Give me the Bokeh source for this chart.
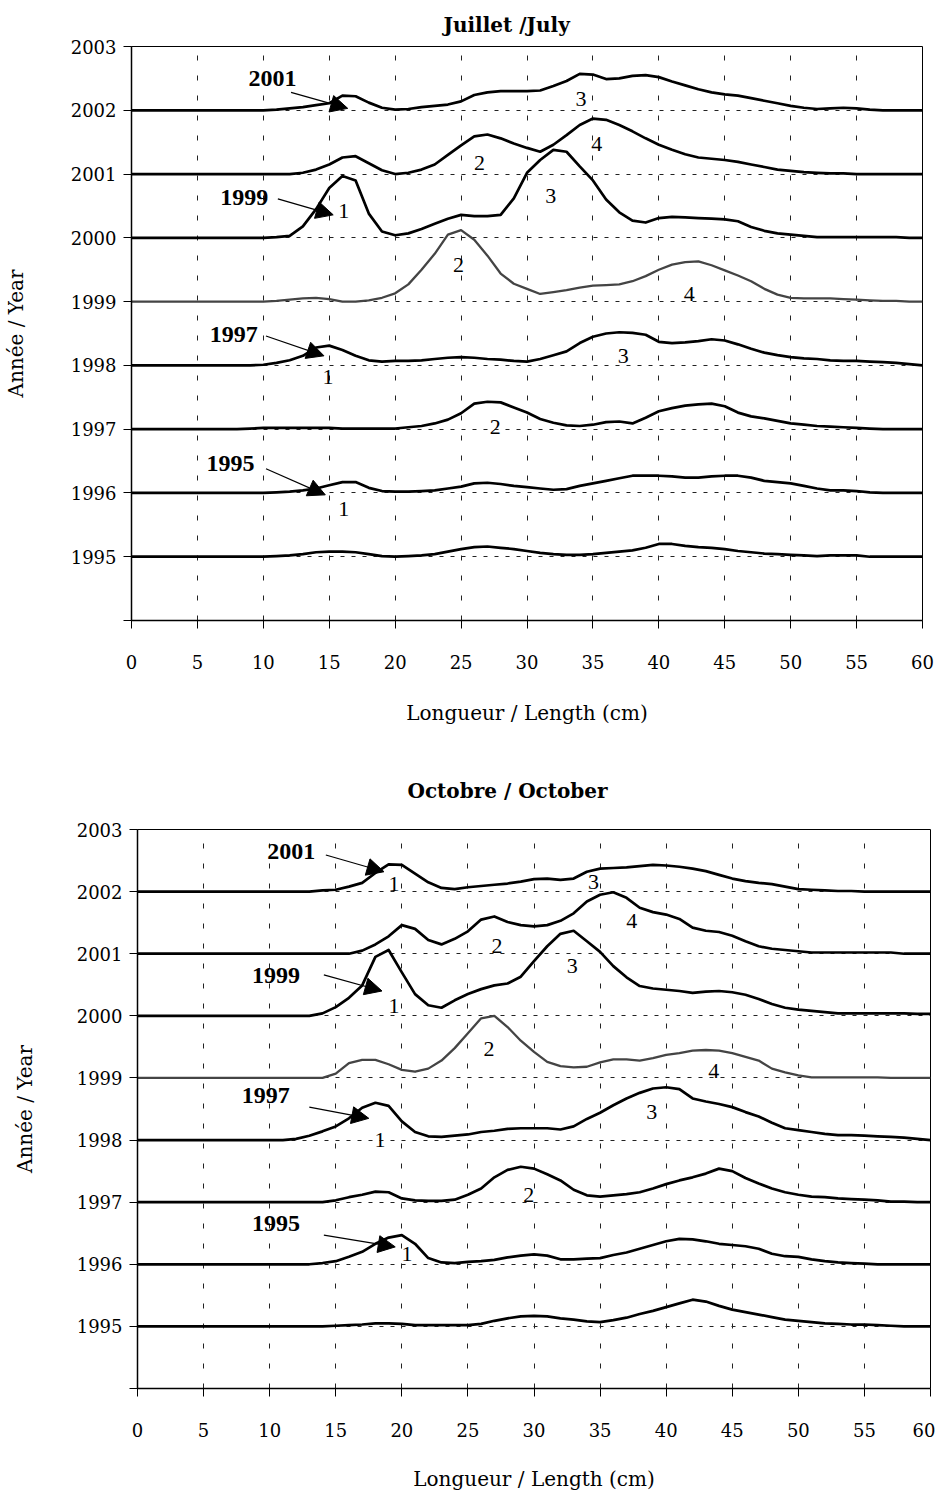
import math
from bokeh.plotting import figure
from bokeh.models import Range1d, Label, Arrow, NormalHead
from bokeh.embed import file_html
from bokeh.resources import INLINE

# ---------------- data ----------------
LENGTHS = list(range(0, 61))          # length classes (cm)
YEARS = [1995, 1996, 1997, 1998, 1999, 2000, 2001, 2002]
X_TICKS = [0, 5, 10, 15, 20, 25, 30, 35, 40, 45, 50, 55, 60]
Y_TICKS = [1994, 1995, 1996, 1997, 1998, 1999, 2000, 2001, 2002, 2003]

# relative frequency (in year units above each baseline) - July
JUL_1995 = [0,0,0,0,0,0,0,0,0,0,0,
            0.01,0.02,0.04,0.07,0.08,0.08,0.07,0.04,0.01,0.0,
            0.01,0.02,0.04,0.08,0.12,0.15,0.16,0.14,0.12,0.09,
            0.06,0.04,0.03,0.03,0.04,0.06,0.08,0.10,0.14,0.20,
            0.20,0.17,0.15,0.14,0.12,0.09,0.07,0.05,0.04,0.03,
            0.02,0.01,0.02,0.02,0.02,0,0,0,0,0]
JUL_1996 = [0,0,0,0,0,0,0,0,0,0,0,
            0.01,0.02,0.04,0.07,0.12,0.17,0.17,0.08,0.03,0.02,
            0.02,0.03,0.04,0.07,0.10,0.15,0.16,0.14,0.11,0.09,
            0.07,0.05,0.06,0.11,0.15,0.19,0.23,0.27,0.27,0.27,
            0.26,0.24,0.24,0.26,0.27,0.27,0.24,0.19,0.17,0.15,
            0.11,0.07,0.04,0.04,0.03,0.01,0,0,0,0]
JUL_1997 = [0,0,0,0,0,0,0,0,0,0.01,0.02,
            0.02,0.02,0.02,0.02,0.02,0.01,0.01,0.01,0.01,0.01,
            0.03,0.05,0.09,0.15,0.25,0.40,0.43,0.42,0.34,0.26,
            0.16,0.10,0.06,0.05,0.07,0.11,0.12,0.09,0.18,0.28,
            0.33,0.37,0.39,0.40,0.36,0.26,0.20,0.17,0.13,0.09,
            0.07,0.05,0.04,0.03,0.02,0.01,0,0,0,0]
JUL_1998 = [0,0,0,0,0,0,0,0,0,0,0.01,
            0.04,0.08,0.15,0.28,0.31,0.24,0.15,0.08,0.06,0.07,
            0.07,0.08,0.10,0.12,0.13,0.12,0.10,0.09,0.07,0.06,
            0.10,0.16,0.22,0.35,0.45,0.50,0.52,0.51,0.48,0.37,
            0.35,0.36,0.38,0.41,0.39,0.33,0.26,0.20,0.16,0.13,
            0.11,0.10,0.08,0.07,0.07,0.06,0.05,0.04,0.02,0.0]
JUL_1999 = [0,0,0,0,0,0,0,0,0,0,0,
            0.01,0.03,0.05,0.06,0.04,0.0,0.0,0.02,0.06,0.13,
            0.27,0.50,0.75,1.05,1.12,0.97,0.72,0.44,0.28,0.20,
            0.12,0.15,0.18,0.22,0.25,0.26,0.27,0.32,0.40,0.50,
            0.58,0.62,0.63,0.57,0.49,0.41,0.32,0.20,0.11,0.06,
            0.05,0.05,0.05,0.04,0.03,0.02,0.01,0.01,0,0]
JUL_2000 = [0,0,0,0,0,0,0,0,0,0,0,
            0.01,0.03,0.18,0.45,0.78,0.97,0.90,0.38,0.10,0.04,
            0.07,0.14,0.22,0.30,0.36,0.34,0.34,0.36,0.62,1.02,
            1.22,1.38,1.35,1.12,0.90,0.60,0.40,0.27,0.24,0.31,
            0.33,0.32,0.31,0.30,0.29,0.26,0.17,0.11,0.07,0.05,
            0.03,0.01,0.01,0.01,0.01,0.01,0.01,0.01,0,0]
JUL_2001 = [0,0,0,0,0,0,0,0,0,0,0,
            0,0,0.02,0.07,0.15,0.26,0.28,0.17,0.06,0.0,
            0.02,0.07,0.15,0.30,0.45,0.59,0.62,0.56,0.48,0.41,
            0.35,0.46,0.61,0.77,0.87,0.85,0.77,0.67,0.56,0.46,
            0.38,0.31,0.26,0.24,0.22,0.19,0.15,0.11,0.07,0.05,
            0.03,0.02,0.01,0.01,0,0,0,0,0,0]
JUL_2002 = [0,0,0,0,0,0,0,0,0,0,0,
            0.01,0.03,0.05,0.08,0.11,0.23,0.22,0.12,0.04,0.01,
            0.02,0.05,0.07,0.09,0.14,0.24,0.28,0.30,0.30,0.30,
            0.31,0.38,0.46,0.57,0.56,0.49,0.50,0.54,0.55,0.52,
            0.45,0.39,0.33,0.28,0.25,0.23,0.19,0.15,0.11,0.07,
            0.04,0.02,0.03,0.04,0.03,0.01,0,0,0,0]

# October
OCT_1995 = [0,0,0,0,0,0,0,0,0,0,0,
            0,0,0,0,0.01,0.02,0.03,0.05,0.05,0.04,
            0.02,0.02,0.02,0.02,0.02,0.04,0.09,0.13,0.16,0.17,
            0.16,0.13,0.11,0.08,0.07,0.10,0.14,0.20,0.25,0.31,
            0.37,0.43,0.40,0.33,0.27,0.23,0.19,0.15,0.11,0.09,
            0.07,0.05,0.04,0.03,0.03,0.02,0.01,0,0,0]
OCT_1996 = [0,0,0,0,0,0,0,0,0,0,0,
            0,0,0,0.02,0.05,0.12,0.20,0.33,0.43,0.47,
            0.33,0.10,0.03,0.02,0.04,0.05,0.07,0.11,0.14,0.16,
            0.14,0.08,0.08,0.09,0.10,0.15,0.19,0.25,0.31,0.37,
            0.41,0.40,0.37,0.33,0.31,0.29,0.25,0.17,0.13,0.12,
            0.08,0.05,0.03,0.02,0.01,0,0,0,0,0]
OCT_1997 = [0,0,0,0,0,0,0,0,0,0,0,
            0,0,0,0,0.03,0.08,0.12,0.17,0.16,0.06,
            0.03,0.02,0.02,0.04,0.12,0.22,0.40,0.52,0.57,0.54,
            0.45,0.35,0.20,0.11,0.09,0.11,0.13,0.16,0.22,0.29,
            0.35,0.40,0.46,0.54,0.50,0.39,0.30,0.22,0.16,0.12,
            0.09,0.08,0.06,0.05,0.04,0.03,0.01,0.01,0,0]
OCT_1998 = [0,0,0,0,0,0,0,0,0,0,0,
            0,0.02,0.07,0.14,0.22,0.35,0.52,0.60,0.55,0.30,
            0.13,0.06,0.05,0.07,0.09,0.13,0.15,0.18,0.19,0.19,
            0.19,0.17,0.22,0.34,0.44,0.56,0.67,0.76,0.83,0.85,
            0.82,0.67,0.62,0.58,0.53,0.45,0.38,0.28,0.19,0.16,
            0.13,0.10,0.08,0.08,0.07,0.06,0.05,0.04,0.02,0.0]
OCT_1999 = [0,0,0,0,0,0,0,0,0,0,0,
            0,0,0,0,0.07,0.24,0.29,0.29,0.22,0.13,
            0.10,0.15,0.28,0.48,0.72,0.96,1.00,0.82,0.60,0.42,
            0.26,0.19,0.17,0.18,0.25,0.30,0.30,0.28,0.32,0.37,
            0.40,0.44,0.45,0.44,0.40,0.34,0.28,0.15,0.09,0.04,
            0.01,0.01,0.01,0.01,0.01,0.01,0,0,0,0]
OCT_2000 = [0,0,0,0,0,0,0,0,0,0,0,
            0,0,0,0.04,0.14,0.29,0.49,0.95,1.06,0.70,
            0.35,0.17,0.13,0.25,0.35,0.43,0.49,0.52,0.63,0.88,
            1.12,1.32,1.37,1.20,1.03,0.80,0.62,0.48,0.44,0.42,
            0.40,0.37,0.39,0.40,0.38,0.34,0.27,0.19,0.13,0.10,
            0.08,0.06,0.04,0.04,0.04,0.04,0.04,0.04,0.03,0.03]
OCT_2001 = [0,0,0,0,0,0,0,0,0,0,0,
            0,0,0,0,0,0,0.05,0.15,0.28,0.46,
            0.40,0.22,0.15,0.24,0.36,0.55,0.60,0.51,0.46,0.44,
            0.46,0.53,0.65,0.84,0.95,0.99,0.90,0.74,0.67,0.63,
            0.56,0.42,0.37,0.35,0.29,0.20,0.12,0.08,0.06,0.04,
            0.02,0.02,0.02,0.02,0.02,0.02,0.02,0,0,0]
OCT_2002 = [0,0,0,0,0,0,0,0,0,0,0,
            0,0,0,0.02,0.03,0.08,0.14,0.30,0.44,0.43,
            0.29,0.15,0.06,0.04,0.07,0.09,0.11,0.13,0.16,0.20,
            0.21,0.19,0.21,0.32,0.37,0.38,0.39,0.41,0.43,0.42,
            0.40,0.37,0.33,0.27,0.21,0.17,0.14,0.12,0.08,0.04,
            0.03,0.02,0.01,0.01,0,0,0,0,0,0]

JULY = dict(zip(YEARS, [JUL_1995, JUL_1996, JUL_1997, JUL_1998,
                        JUL_1999, JUL_2000, JUL_2001, JUL_2002]))
OCTOBER = dict(zip(YEARS, [OCT_1995, OCT_1996, OCT_1997, OCT_1998,
                           OCT_1999, OCT_2000, OCT_2001, OCT_2002]))
for d in (JULY, OCTOBER):
    for k, v in d.items():
        assert len(v) == len(LENGTHS), (k, len(v))

SERIF_TICK = "DejaVu Serif"
SERIF_ANN = "Liberation Serif"


def make_panel(title, curves, width, height, left, right, top, bottom,
               title_standoff, title_offset, ytitle_standoff, cohorts,
               numbers, xlab_standoff, xtitle_standoff):
    p = figure(width=width, height=height, output_backend="svg",
               toolbar_location=None, x_range=Range1d(0, 60),
               y_range=Range1d(1994, 2003),
               min_border_left=left, min_border_right=right,
               min_border_top=top, min_border_bottom=bottom)
    p.background_fill_color = "white"
    p.border_fill_color = "white"
    p.outline_line_color = "black"
    p.outline_line_width = 1

    p.title.text = title
    p.title.align = "left"
    p.title.text_font = SERIF_TICK
    p.title.text_font_size = "20px"
    p.title.text_font_style = "bold"
    p.title.text_color = "black"
    p.title.standoff = title_standoff
    p.title.offset = title_offset

    p.xaxis.ticker = X_TICKS
    p.yaxis.ticker = Y_TICKS
    p.yaxis.major_label_overrides = {1994: ""}
    p.axis.minor_tick_line_color = None
    p.axis.major_tick_out = 8
    p.axis.major_tick_in = 0
    p.axis.axis_line_width = 1.5
    p.axis.major_tick_line_width = 1
    p.axis.major_label_text_font = SERIF_TICK
    p.axis.major_label_text_font_size = "18px"
    p.axis.major_label_text_color = "black"
    p.axis.axis_label_text_font = SERIF_TICK
    p.axis.axis_label_text_font_style = "normal"
    p.axis.axis_label_text_font_size = "20px"
    p.axis.axis_label_text_color = "black"
    p.xaxis.major_label_standoff = xlab_standoff
    p.yaxis.major_label_standoff = 7
    p.xaxis.axis_label = "Longueur / Length (cm)"
    p.xaxis.axis_label_standoff = xtitle_standoff
    p.yaxis.axis_label = "Année / Year"
    p.yaxis.axis_label_standoff = ytitle_standoff

    p.xgrid.grid_line_color = "#222222"
    p.xgrid.grid_line_dash = "5 15"
    p.xgrid.grid_line_width = 1
    p.ygrid.grid_line_color = "#222222"
    p.ygrid.grid_line_dash = "4 7"
    p.ygrid.grid_line_width = 1

    for yr in YEARS:
        ys = [yr + v for v in curves[yr]]
        gray = (yr == 1999)
        p.line(LENGTHS, ys, line_color="#444444" if gray else "black",
               line_width=2.3 if gray else 2.7, line_join="round")

    for txt, tx, ty, x0, y0, x1, y1 in cohorts:
        p.add_layout(Label(x=tx, y=ty, text=txt, text_font=SERIF_ANN,
                           text_font_size="24px", text_font_style="bold",
                           text_color="black",
                           text_align="center", text_baseline="middle"))
        p.add_layout(Arrow(x_start=x0, y_start=y0, x_end=x1, y_end=y1,
                           line_color="black", line_width=1.2,
                           end=NormalHead(size=17, fill_color="black",
                                          line_color="black")))
    for txt, tx, ty in numbers:
        p.add_layout(Label(x=tx, y=ty, text=txt, text_font=SERIF_ANN,
                           text_font_size="22px", text_color="black",
                           text_align="center", text_baseline="middle"))
    return p


top_cohorts = [
    ("2001", 10.7, 2002.50, 12.1, 2002.28, 16.4, 2002.03),
    ("1999", 8.55, 2000.63, 11.1, 2000.61, 15.3, 2000.36),
    ("1997", 7.75, 1998.48, 10.2, 1998.46, 14.6, 1998.15),
    ("1995", 7.5, 1996.46, 10.2, 1996.38, 14.7, 1995.97),
]
top_numbers = [
    ("3", 34.1, 2002.18), ("4", 35.3, 2001.47), ("2", 26.4, 2001.18),
    ("1", 16.1, 2000.42), ("3", 31.8, 2000.66), ("2", 24.8, 1999.58),
    ("4", 42.3, 1999.12), ("1", 14.9, 1997.82), ("3", 37.3, 1998.15),
    ("2", 27.6, 1997.03), ("1", 16.1, 1995.75),
]
bot_cohorts = [
    ("2001", 11.64, 2002.65, 14.25, 2002.59, 18.65, 2002.32),
    ("1999", 10.47, 2000.65, 14.1, 2000.66, 18.5, 2000.40),
    ("1997", 9.7, 1998.71, 13.0, 1998.53, 17.5, 1998.35),
    ("1995", 10.47, 1996.66, 14.1, 1996.47, 19.5, 1996.28),
]
bot_numbers = [
    ("1", 19.4, 2002.13), ("3", 34.5, 2002.16), ("2", 27.2, 2001.13),
    ("4", 37.4, 2001.53), ("1", 19.4, 2000.16), ("3", 32.9, 2000.80),
    ("2", 26.6, 1999.46), ("4", 43.6, 1999.11), ("1", 18.35, 1998.0),
    ("3", 38.9, 1998.45), ("2", 29.6, 1997.12), ("1", 20.4, 1996.16),
]

# canvas placed at page (0,0); frame top 46..620, x 128..922
p1 = make_panel("Juillet /July", JULY, 935, 748, 128, 13, 46, 128,
                20, 312, 40, top_cohorts, top_numbers, 26, 29)
# second canvas starts at page y=748; frame top 829..1388, x 137..930
p2 = make_panel("Octobre / October", OCTOBER, 935, 747, 137, 5, 81, 107,
                54, 270, 37, bot_cohorts, bot_numbers, 26, 27)

open("out.html", "w").write(file_html([p1, p2], INLINE))
